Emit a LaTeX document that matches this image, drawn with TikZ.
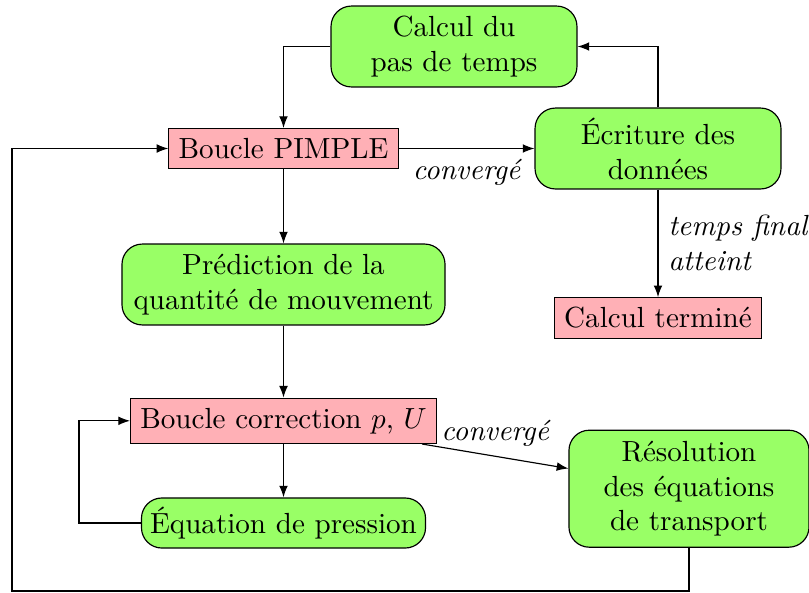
\documentclass[tikz,border=0pt]{standalone}
\usetikzlibrary{arrows.meta}
\definecolor{boxgreen}{RGB}{153,255,102}
\definecolor{boxpink}{RGB}{255,176,182}
\begin{document}
\begin{tikzpicture}[x=0.3436pt,y=-0.3436pt,
  gbox/.style={draw, fill=boxgreen, rounded corners=7pt, align=center, inner sep=2pt},
  pbox/.style={draw, fill=boxpink, align=center},
  conn/.style={-{Latex[length=4pt,width=3pt]}},
  lab/.style={font=\itshape}]
\useasboundingbox (0,0) rectangle (809,592);
\node[gbox, minimum width=84.5pt, minimum height=27.8pt] (calc) at (454,46.5) {Calcul du\\pas de temps};
\node[pbox] (pimple) at (283.5,148.5) {Boucle PIMPLE};
\node[gbox, minimum width=84.5pt, minimum height=27.8pt] (ecr) at (658,148.5) {\'Ecriture des\\donn\'ees};
\node[pbox] (fin) at (658,318) {Calcul termin\'e};
\node[gbox, minimum width=111pt, minimum height=27.8pt] (pred) at (283.5,284.5) {Pr\'ediction de la\\quantit\'e de mouvement};
\node[pbox] (corr) at (283.5,420.8) {Boucle correction $p$, $U$};
\node[gbox, minimum width=97.6pt, minimum height=17.2pt] (eq) at (283.5,523) {\'Equation de pression};
\node[gbox, minimum width=82.5pt, minimum height=40.2pt] (res) at (689,488.7) {R\'esolution\\des \'equations\\de transport};
\coordinate (bl) at (12,591);
\coordinate (cl) at (79,523);

\draw[conn] (calc.west) -| (pimple.north);
\draw[conn] (ecr.north) |- (calc.east);
\draw[conn] (pimple.east) -- node[lab, below] {converg\'e} (ecr.west);
\draw[conn] (ecr.south) -- node[lab, right, align=left] {temps final\\atteint} (fin.north);
\draw[conn] (pimple.south) -- (pred.north);
\draw[conn] (pred.south) -- (corr.north);
\draw[conn] (corr.south) -- (eq.north);
\draw[conn] (eq.west) -- (cl) |- (corr.west);
\draw[conn] (corr) -- node[lab, above, pos=0.5] {converg\'e} (res);
\draw[conn] (res.south) |- (bl) |- (pimple.west);
\end{tikzpicture}
\end{document}
